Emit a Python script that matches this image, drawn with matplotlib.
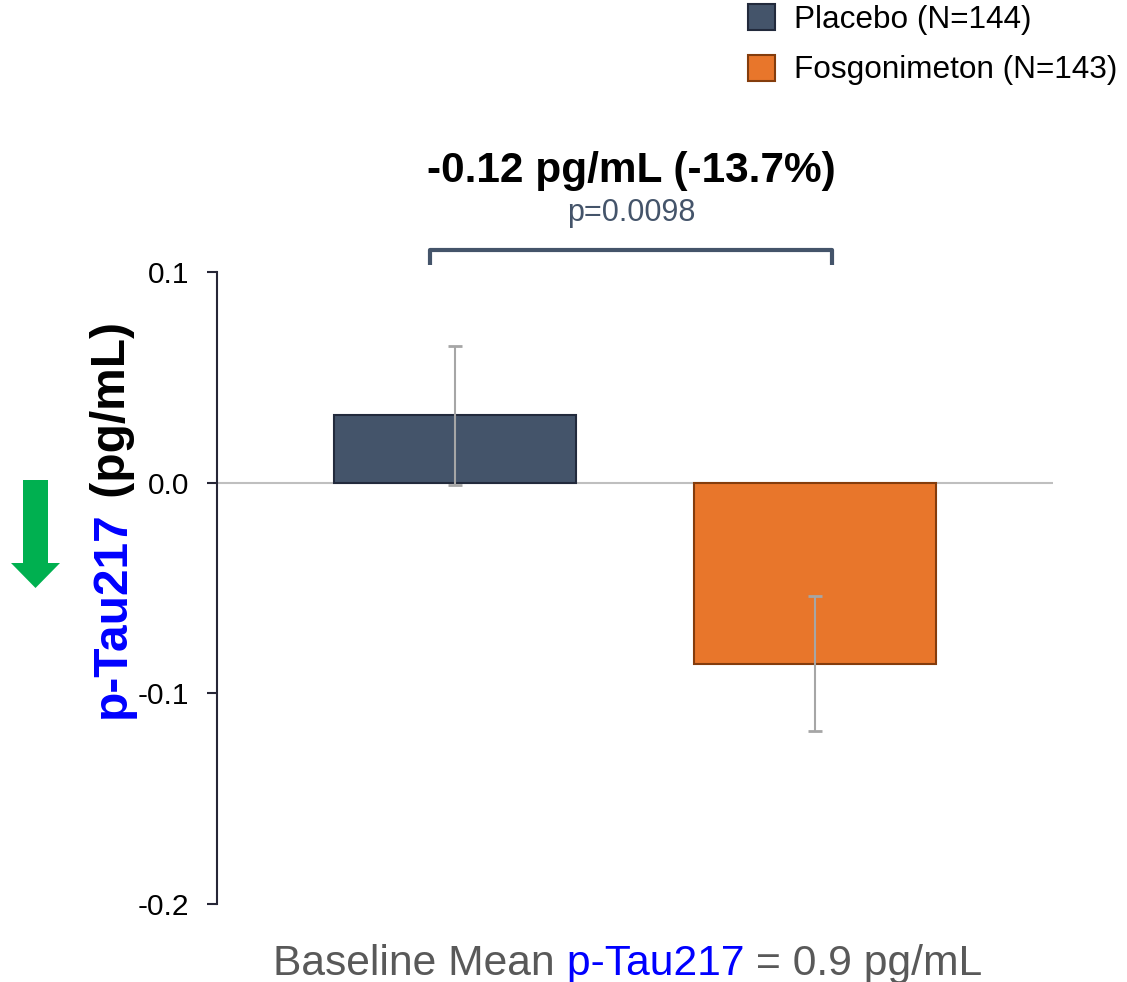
import matplotlib
matplotlib.use("Agg")
import matplotlib.pyplot as plt
from matplotlib.patches import Polygon
from matplotlib.ticker import FormatStrFormatter

plt.rcParams['font.family'] = 'Liberation Sans'
plt.rcParams['axes.unicode_minus'] = False

# change from baseline in p-Tau217 (pg/mL), mean +/- SE
groups = ['Placebo (N=144)', 'Fosgonimeton (N=143)']
means = [0.032, -0.086]
errors = [0.033, 0.032]
yticks = [-0.2, -0.1, 0.0, 0.1]

diff_label = '-0.12 pg/mL (-13.7%)'
p_label = 'p=0.0098'

fill_colors = ['#44546A', '#E8762B']
edge_colors = ['#222A3C', '#843C0C']
blue = '#0000FF'
gray_text = '#595959'

W, H = 1127, 982
fig = plt.figure(figsize=(W / 100, H / 100), dpi=100)
ax = fig.add_axes([217 / W, 78 / H, 836 / W, 632 / H])

x = [0, 1]
bars = ax.bar(x, means, width=0.67, color=fill_colors, edgecolor=edge_colors,
              linewidth=1.5, zorder=2)
ax.errorbar(x, means, yerr=errors, fmt='none', ecolor='#A6A6A6', elinewidth=1.5,
            capsize=5, capthick=2, zorder=3)
ax.axhline(0, color='#BFBFBF', linewidth=1.5, zorder=1)

ax.set_xlim(-0.661, 1.661)
ax.set_ylim(-0.2, 0.1)
ax.set_yticks(yticks)
ax.yaxis.set_major_formatter(FormatStrFormatter('%.1f'))
ax.tick_params(axis='y', length=7, width=1.5, color='#262636', pad=13)
for lbl in ax.get_yticklabels():
    lbl.set_fontsize(21.5)
ax.set_xticks([])
for side in ['top', 'right', 'bottom']:
    ax.spines[side].set_visible(False)
ax.spines['left'].set_color('#262636')
ax.spines['left'].set_linewidth(1.5)

# significance bracket between the two groups
bx0, bx1, by, bdrop = -0.069, 1.047, 0.1106, 0.0072
ax.plot([bx0, bx0, bx1, bx1], [by - bdrop, by, by, by - bdrop], color='#44546A',
        linewidth=3, clip_on=False, solid_capstyle='butt')
ax.text((bx0 + bx1) / 2, 0.1429, diff_label, ha='center', va='baseline',
        fontsize=30.5, fontweight='bold', color='black')
ax.text((bx0 + bx1) / 2, 0.1243, p_label, ha='center', va='baseline',
        fontsize=22, color='#44546A')

# legend
fig.legend(bars, groups, loc='upper left', bbox_to_anchor=(748 / W, 1 - 4 / H),
           frameon=False, fontsize=22.7, borderpad=0, borderaxespad=0,
           handlelength=0.87, handleheight=0.9, handletextpad=0.6,
           labelspacing=0.62)

# y label in two colours
t1 = fig.text(125 / W, 1 - 718 / H, 'p-Tau217', rotation=90, rotation_mode='anchor',
              ha='left', va='baseline', fontsize=34.5, fontweight='bold', color=blue)
ax.annotate(' (pg/mL)', xy=(0, 1), xycoords=t1, rotation=90, ha='left', va='bottom',
            fontsize=34.5, fontweight='bold', color='black', annotation_clip=False)

# green down arrow next to the label
arrow_px = [(23, 480), (48, 480), (48, 563), (60, 563), (35.5, 588), (11, 563), (23, 563)]
fig.add_artist(Polygon([(px / W, 1 - py / H) for px, py in arrow_px], closed=True,
                       transform=fig.transFigure, facecolor='#00B050', edgecolor='none'))

# baseline footnote
b1 = fig.text(273 / W, 1 - 975 / H, 'Baseline Mean', ha='left', va='baseline',
              fontsize=30.7, color=gray_text)
b2 = ax.annotate(' p-Tau217', xy=(1, 0), xycoords=b1, ha='left', va='bottom',
                 fontsize=30.7, color=blue, annotation_clip=False)
ax.annotate(' = 0.9 pg/mL', xy=(1, 0), xycoords=b2, ha='left', va='bottom',
            fontsize=30.7, color=gray_text, annotation_clip=False)

fig.savefig('out.png', dpi=100)
